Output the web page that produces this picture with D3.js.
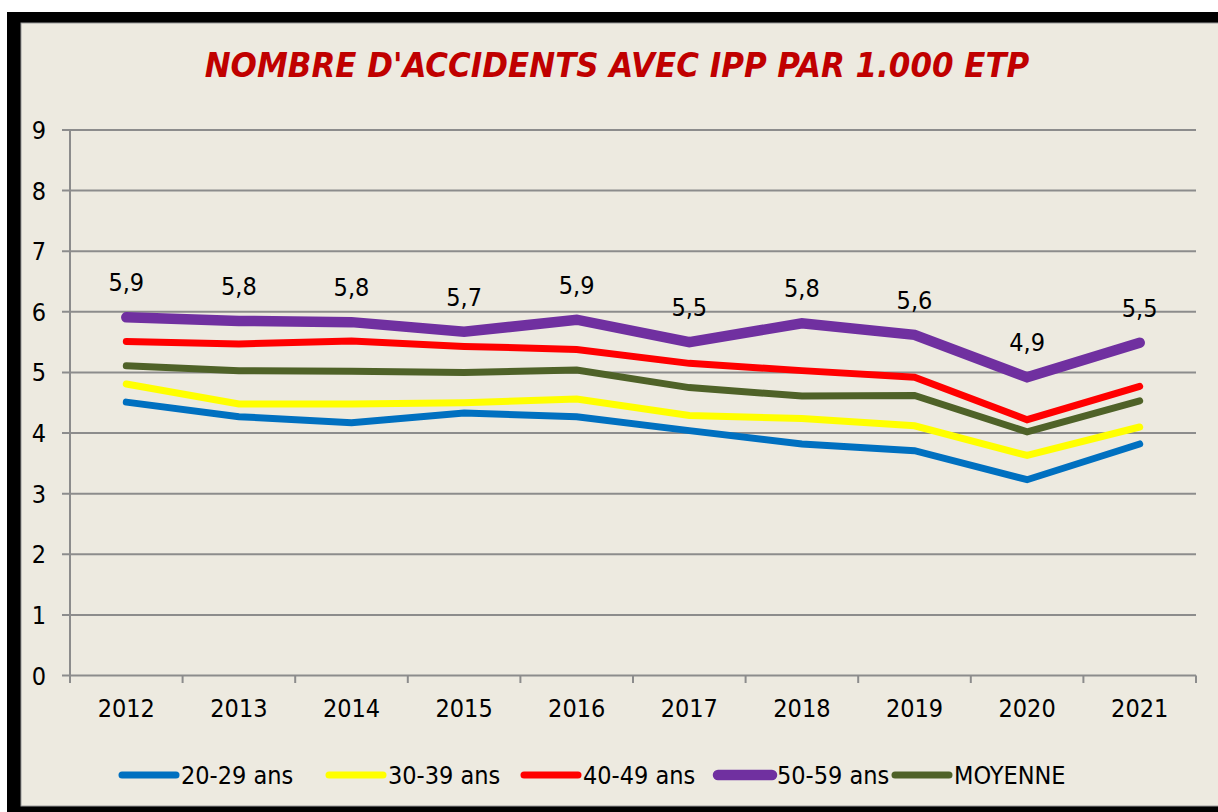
<!DOCTYPE html>
<html lang="fr">
<head>
<meta charset="utf-8">
<title>Nombre d'accidents avec IPP</title>
<script src="https://d3js.org/d3.v7.min.js"></script>
<style>
	body{ margin: 0; background: #ffffff; }
	svg{ display: block; }
	text{ font-family: "DejaVu Sans Condensed", "DejaVu Sans", sans-serif; fill: #000; }
</style>
</head>
<body>
<div id="chart"></div>
<script>

	// data
	var years = ["2012", "2013", "2014", "2015", "2016", "2017", "2018", "2019", "2020", "2021"];
	var age20 = [4.51, 4.27, 4.17, 4.33, 4.27, 4.04, 3.82, 3.71, 3.23, 3.82];
	var age30 = [4.81, 4.48, 4.48, 4.50, 4.56, 4.29, 4.24, 4.12, 3.63, 4.10];
	var age40 = [5.51, 5.47, 5.52, 5.43, 5.38, 5.15, 5.03, 4.92, 4.22, 4.77];
	var age50 = [5.91, 5.85, 5.83, 5.67, 5.87, 5.50, 5.81, 5.62, 4.92, 5.49];
	var moyenne = [5.11, 5.03, 5.02, 5.00, 5.04, 4.75, 4.61, 4.62, 4.02, 4.53];
	var seriesNames = ["20-29 ans", "30-39 ans", "40-49 ans", "50-59 ans", "MOYENNE"];
	var yTicks = [0, 1, 2, 3, 4, 5, 6, 7, 8, 9];
	var title = "NOMBRE D'ACCIDENTS AVEC IPP PAR 1.000 ETP";

	var series = [
		{name: seriesNames[0], values: age20, color: "#0070C0", width: 7},
		{name: seriesNames[1], values: age30, color: "#FFFF00", width: 7},
		{name: seriesNames[2], values: age40, color: "#FF0000", width: 7},
		{name: seriesNames[3], values: age50, color: "#7030A0", width: 10.5},
		{name: seriesNames[4], values: moyenne, color: "#4F6228", width: 7}
	];

	var W = 1218, H = 812;
	var fs = 25;
	var svg = d3.select("#chart").append("svg")
		.attr("width", W)
		.attr("height", H);

	/** frame */
	svg.append("rect").attr("x", 7).attr("y", 12).attr("width", W).attr("height", H)
		.attr("fill", "#000");
	svg.append("rect").attr("x", 21).attr("y", 23).attr("width", W).attr("height", 783)
		.attr("fill", "#EDEAE0").attr("stroke", "#9a9a9a").attr("stroke-width", 1);

	/** scales */
	var x = d3.scaleBand().domain(years).range([70, 1196]);
	var y = d3.scaleLinear().domain([0, 9]).range([675.5, 130]);
	var cx = function(d){ return x(d) + x.bandwidth() / 2; };

	/** gridlines + y ticks */
	var gridCol = "#8c8c8c";
	svg.selectAll(".grid")
		.data(yTicks.filter(function(d){ return d > 0; }))
		.enter().append("line")
		.attr("x1", 62).attr("x2", 1196)
		.attr("y1", function(d){ return y(d); })
		.attr("y2", function(d){ return y(d); })
		.attr("stroke", gridCol).attr("stroke-width", 2);

	svg.selectAll(".ylab")
		.data(yTicks)
		.enter().append("text")
		.attr("x", 46)
		.attr("y", function(d){ return y(d) + 9; })
		.attr("text-anchor", "end")
		.attr("font-size", fs)
		.text(function(d){ return d; });

	/** axes */
	svg.append("line").attr("x1", 70).attr("x2", 70).attr("y1", y(9)).attr("y2", 683)
		.attr("stroke", gridCol).attr("stroke-width", 2);
	svg.append("line").attr("x1", 62).attr("x2", 1196).attr("y1", y(0)).attr("y2", y(0))
		.attr("stroke", gridCol).attr("stroke-width", 2);

	var bounds = years.map(function(d){ return x(d); }).concat([x(years[years.length - 1]) + x.bandwidth()]);
	svg.selectAll(".xtick")
		.data(bounds)
		.enter().append("line")
		.attr("x1", function(d){ return d; }).attr("x2", function(d){ return d; })
		.attr("y1", y(0)).attr("y2", 683)
		.attr("stroke", gridCol).attr("stroke-width", 2);

	svg.selectAll(".xlab")
		.data(years)
		.enter().append("text")
		.attr("x", cx)
		.attr("y", 717)
		.attr("text-anchor", "middle")
		.attr("font-size", fs)
		.text(function(d){ return d; });

	/** lines */
	var line = d3.line()
		.x(function(d, i){ return cx(years[i]); })
		.y(function(d){ return y(d); });

	svg.selectAll(".serie")
		.data(series)
		.enter().append("path")
		.attr("d", function(s){ return line(s.values); })
		.attr("fill", "none")
		.attr("stroke", function(s){ return s.color; })
		.attr("stroke-width", function(s){ return s.width; })
		.attr("stroke-linecap", "round")
		.attr("stroke-linejoin", "miter");

	/** value labels on 50-59 */
	svg.selectAll(".vlab")
		.data(age50)
		.enter().append("text")
		.attr("x", function(d, i){ return cx(years[i]); })
		.attr("y", function(d){ return y(d) - 26; })
		.attr("text-anchor", "middle")
		.attr("font-size", fs)
		.text(function(d){ return d.toFixed(1).replace(".", ","); });

	/** title */
	var t = svg.append("text")
		.attr("x", 617).attr("y", 77)
		.attr("text-anchor", "middle")
		.attr("font-size", 36)
		.attr("font-weight", "bold")
		.attr("font-style", "italic")
		.style("fill", "#C00000")
		.text(title);
	var tw = t.node().getComputedTextLength();
	t.attr("font-size", 36 * 825 / tw);

	/** legend */
	var legX = [122, 329, 524, 718, 895];
	var leg = svg.selectAll(".leg")
		.data(series)
		.enter().append("g")
		.attr("transform", function(s, i){ return "translate(" + legX[i] + ",775)"; });
	leg.append("line")
		.attr("x1", 0).attr("x2", 54)
		.attr("stroke", function(s){ return s.color; })
		.attr("stroke-width", function(s){ return s.width; })
		.attr("stroke-linecap", "round");
	leg.append("text")
		.attr("x", 59).attr("y", 9)
		.attr("font-size", fs)
		.text(function(s){ return s.name; });

</script>
</body>
</html>
